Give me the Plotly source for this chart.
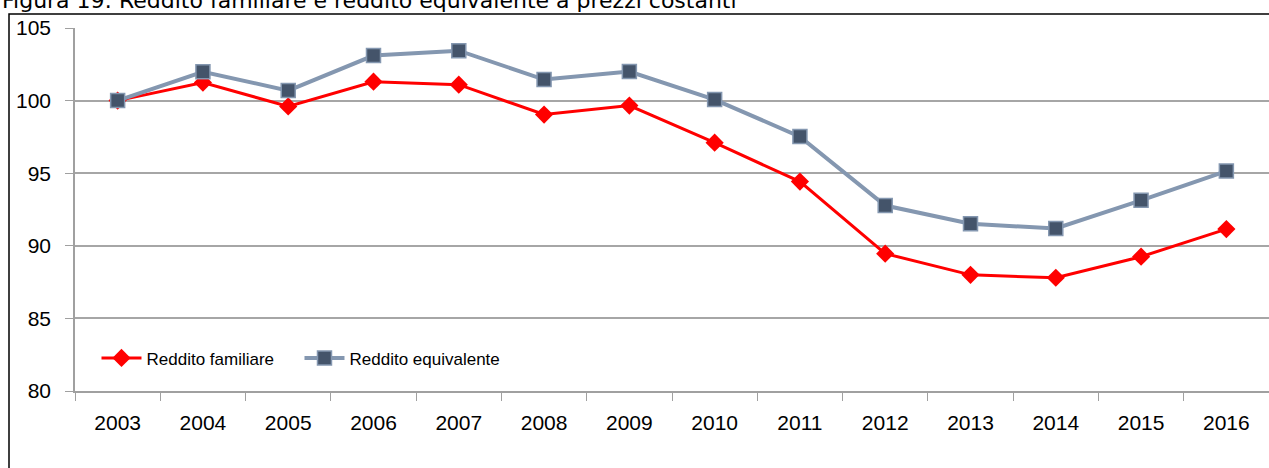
import plotly.graph_objects as go

years = ["2003", "2004", "2005", "2006", "2007", "2008", "2009",
         "2010", "2011", "2012", "2013", "2014", "2015", "2016"]
reddito_familiare = [100.0, 101.24, 99.6, 101.3, 101.1, 99.04, 99.66,
                     97.1, 94.42, 89.46, 88.0, 87.8, 89.25, 91.15]
reddito_equivalente = [100.0, 101.98, 100.69, 103.1, 103.44, 101.45, 102.0,
                       100.07, 97.52, 92.77, 91.52, 91.19, 93.13, 95.15]
y_ticks = [80, 85, 90, 95, 100, 105]

fig = go.Figure()
fig.add_trace(go.Scatter(
    x=years, y=reddito_familiare, name="Reddito familiare",
    mode="lines+markers",
    line=dict(color="#FF0000", width=3),
    marker=dict(symbol="diamond", size=14, color="#FF0000"),
))
fig.add_trace(go.Scatter(
    x=years, y=reddito_equivalente, name="Reddito equivalente",
    mode="lines+markers",
    line=dict(color="#8497B0", width=4),
    marker=dict(symbol="square", size=14, color="#44546A",
                line=dict(color="#8497B0", width=1.5)),
))

fig.update_layout(
    width=1269, height=468,
    margin=dict(l=75, r=0, t=28, b=77),
    paper_bgcolor="white", plot_bgcolor="white",
    font=dict(family="Liberation Sans, Arial", size=20, color="#000000"),
    showlegend=True,
    legend=dict(orientation="h", x=0.018, y=0.09, xanchor="left", yanchor="middle",
                bgcolor="rgba(0,0,0,0)", font=dict(size=17),
                itemwidth=40, entrywidth=148, entrywidthmode="pixels"),
    xaxis=dict(
        type="category", range=[-0.5, 13.5],
        showgrid=False, showline=True, linecolor="#A0A0A0", linewidth=1.5,
        ticks="outside", tickson="boundaries", ticklen=8, tickcolor="#A0A0A0",
        tickfont=dict(size=21), ticklabelstandoff=12,
    ),
    yaxis=dict(
        range=[80, 105], tickvals=y_ticks,
        showgrid=True, gridcolor="#A6A6A6", gridwidth=1.5,
        showline=True, linecolor="#A0A0A0", linewidth=1.5,
        ticks="outside", ticklen=8, tickcolor="#A0A0A0",
        tickfont=dict(size=21), zeroline=False, ticklabelstandoff=10,
    ),
    shapes=[dict(type="rect", xref="paper", yref="paper",
                 x0=(9 - 75) / 1194, x1=1.01, y0=-0.25, y1=(391 - 14) / 363,
                 line=dict(color="#000000", width=1.5), fillcolor="rgba(0,0,0,0)",
                 layer="below")],
    annotations=[dict(text="Figura 19: Reddito familiare e reddito equivalente a prezzi costanti",
                      xref="paper", yref="paper", x=(0 - 75) / 1194, y=(391 - 15) / 363,
                      xanchor="left", yanchor="bottom", showarrow=False,
                      font=dict(family="DejaVu Sans, Verdana", size=22, color="#000000"))],
)

fig.write_html("out.html", config={"displayModeBar": False},
               post_script="document.body.style.margin='0';")
